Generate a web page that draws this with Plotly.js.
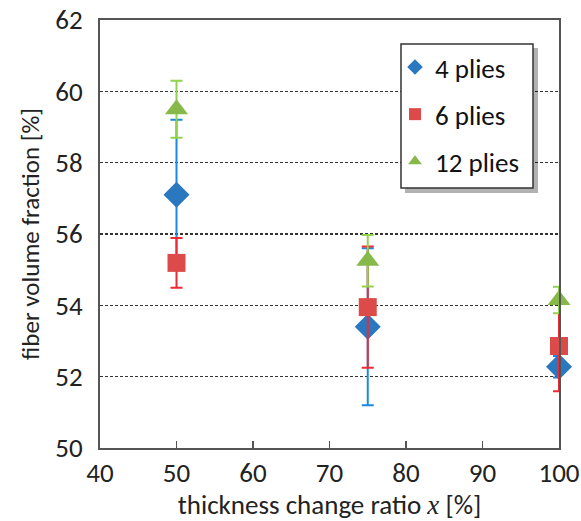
<!DOCTYPE html>
<html>
<head>
<meta charset="utf-8">
<script src="https://cdn.plot.ly/plotly-3.0.1.min.js"></script>
<style>html,body{margin:0;padding:0;background:#fff;}</style>
</head>
<body>
<div id="chart" style="width:581px;height:521px;"></div>
<script>
// Data
const ratios = [50, 75, 100];
const plies4 = [57.1, 53.4, 52.28];
const plies4Err = [2.1, 2.2, 0.3];
const plies6 = [55.19, 53.95, 52.86];
const plies6Err = [0.7, 1.7, 1.27];
const plies12 = [59.5, 55.25, 54.15];
const plies12Err = [0.8, 0.72, 0.37];
const seriesNames = ['4 plies', '6 plies', '12 plies'];
const yTicks = [50, 52, 54, 56, 58, 60, 62];
const xTicks = [40, 50, 60, 70, 80, 90, 100];

const FONT = 'Carlito, Lato, "Open Sans", sans-serif';

function trace(name, y, err, symbol, size, color, errColor, group) {
  return {
    type: 'scatter', mode: 'markers', name: name, x: ratios, y: y,
    legendgroup: group, cliponaxis: false,
    marker: {symbol: symbol, size: size, color: color, line: {width: 0}},
    error_y: {type: 'data', array: err, visible: true, color: errColor, thickness: 2, width: 6}
  };
}

const data = [
  trace(seriesNames[0], plies4, plies4Err, 'diamond', 20, '#2a78c0', '#1a8ae0', 'a'),
  trace(seriesNames[1], plies6, plies6Err, 'square', 18, '#dd4a4a', '#ee2b35', 'b'),
  trace(seriesNames[2], plies12, plies12Err, 'triangle-up', 20, '#86b84a', '#8fd44c', 'c')
];

// legend box geometry in paper coords (plot area spans 100..559 px, 20..448 px)
const px = v => (v - 100) / 459;
const py = v => (448 - v) / 428;

const layout = {
  width: 581, height: 521,
  margin: {l: 100, r: 22, t: 20, b: 73},
  paper_bgcolor: '#fff', plot_bgcolor: '#fff',
  font: {family: FONT, size: 24, color: '#222'},
  showlegend: true,
  legend: {
    x: px(395), y: py(43), xanchor: 'left', yanchor: 'top',
    bgcolor: 'rgba(0,0,0,0)', borderwidth: 0,
    font: {family: FONT, size: 27, color: '#111'},
    tracegroupgap: 9, itemwidth: 30, itemsizing: 'constant'
  },
  xaxis: {
    range: [40, 100], tickvals: xTicks, ticktext: xTicks.map(String),
    showgrid: false, zeroline: false,
    showline: true, linecolor: '#555', linewidth: 2, mirror: true,
    ticks: 'inside', ticklen: 7, tickwidth: 1.5, tickcolor: '#555',
    tickfont: {family: FONT, size: 27, color: '#222'},
    title: {text: 'thickness change ratio <i><span style="font-family:\'Liberation Serif\',serif">x</span></i> [%]', font: {family: FONT, size: 27, color: '#222'}, standoff: 4}
  },
  yaxis: {
    range: [50, 62], tickvals: yTicks, ticktext: yTicks.map(String),
    showgrid: true, gridcolor: '#333', griddash: '3px,2px', gridwidth: 1.3,
    zeroline: false,
    showline: true, linecolor: '#555', linewidth: 2, mirror: true,
    ticks: '', ticklabelstandoff: 10,
    tickfont: {family: FONT, size: 27, color: '#222'},
    title: {text: 'fiber volume fraction [%]', font: {family: FONT, size: 25, color: '#222'}, standoff: 8}
  },
  shapes: [
    {type: 'rect', xref: 'paper', yref: 'paper', x0: px(405), x1: px(538), y0: py(193), y1: py(48),
     fillcolor: 'rgba(0,0,0,0.3)', line: {width: 0}, layer: 'above'},
    {type: 'rect', xref: 'paper', yref: 'paper', x0: px(401), x1: px(533), y0: py(188), y1: py(44),
     fillcolor: '#fff', line: {width: 1.5, color: '#333'}, layer: 'above'}
  ]
};

Plotly.newPlot('chart', data, layout, {displayModeBar: false, staticPlot: true});
</script>
</body>
</html>
